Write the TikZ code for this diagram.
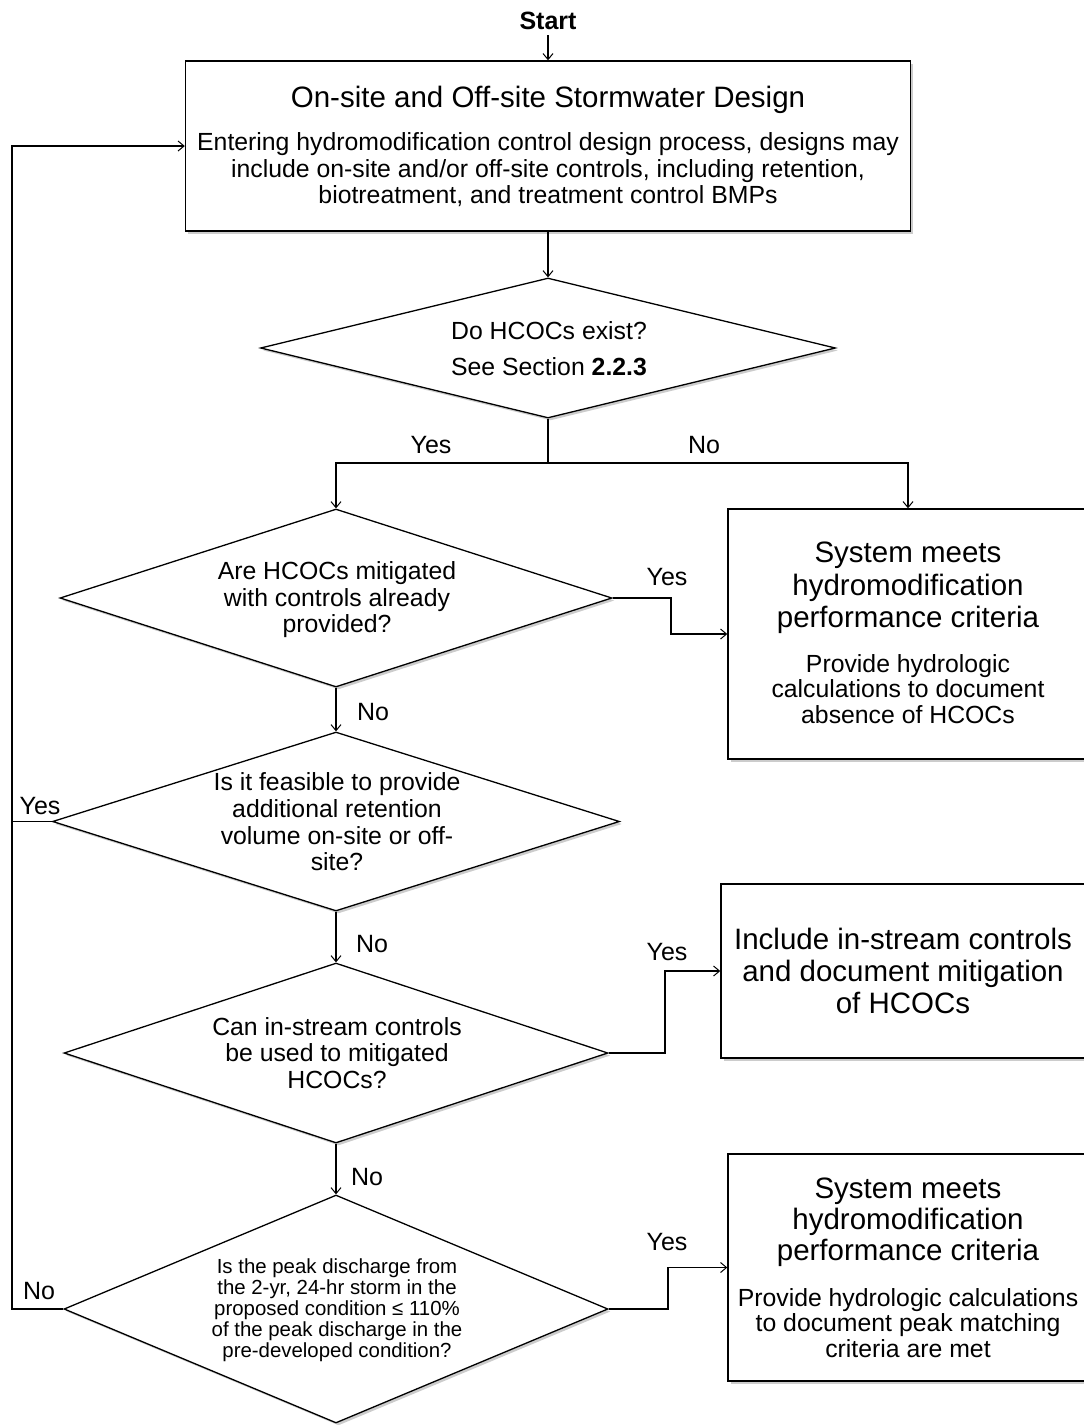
\documentclass[tikz,border=0pt]{standalone}
\usepackage{fontspec}
\setmainfont{Liberation Sans}
\usetikzlibrary{arrows.meta,shapes.geometric,shadows}
\begin{document}
\begin{tikzpicture}[x=1pt,y=-1pt,
  shd/.style={drop shadow={shadow xshift=2.5pt,shadow yshift=-2.5pt,opacity=0.4}},
  box/.style={draw=black, line width=1.4pt, fill=white, rectangle, inner sep=0pt, shd},
  dia/.style={draw=black, line width=1.3pt, fill=white, diamond, inner sep=0pt, shd},
  ttl/.style={align=center, inner sep=0pt, font=\fontsize{29.5}{32.5}\selectfont},
  bod/.style={align=center, inner sep=0pt, font=\fontsize{24.8}{26.5}\selectfont},
  lbl/.style={inner sep=0pt, font=\fontsize{25}{28}\selectfont},
  conn/.style={draw=black, line width=1.1pt},
  arr/.style={conn, -{Straight Barb[length=6pt,width=10pt,line width=1pt]}}
]
\fill[white] (0,0) rectangle (1084,1425);
\useasboundingbox (0,0) rectangle (1084,1425);

% Start
\node[inner xsep=0pt, inner ysep=5pt, font=\fontsize{25}{28}\selectfont\bfseries] (start) at (548,21) {Start};

% Box 1
\node[box, minimum width=725pt, minimum height=170pt] (b1) at (548,146) {};
\node[ttl] (b1t) at (548,100) {On-site and Off-site Stormwater Design};
\node[bod] (b1b) at (548,170) {Entering hydromodification control design process, designs may\\include on-site and/or off-site controls, including retention,\\biotreatment, and treatment control BMPs};

% Diamond 1
\node[dia, minimum width=575pt, minimum height=140pt] (d1) at (548,348) {};
\node[bod, font=\fontsize{24.8}{36}\selectfont] (d1t) at (549,349) {Do HCOCs exist?\\See Section \textbf{2.2.3}};

% Box 2
\node[box, minimum width=360pt, minimum height=250pt] (b2) at (908,634) {};
\node[ttl] (b2t) at (908,588) {System meets\\hydromodification\\performance criteria};
\node[bod, font=\fontsize{24.8}{25.5}\selectfont] (b2b) at (908,689) {Provide hydrologic\\calculations to document\\absence of HCOCs};

% Diamond 2
\node[dia, minimum width=552pt, minimum height=178pt] (d2) at (336,598) {};
\node[bod] (d2t) at (337,600) {Are HCOCs mitigated\\with controls already\\provided?};

% Diamond 3
\node[dia, minimum width=567pt, minimum height=179pt] (d3) at (336,821.5) {};
\node[bod, font=\fontsize{24.8}{26.7}\selectfont] (d3t) at (337,822) {Is it feasible to provide\\additional retention\\volume on-site or off-\\site?};

% Box 3
\node[box, minimum width=367pt, minimum height=174pt] (b3) at (904.5,971) {};
\node[ttl, font=\fontsize{29.5}{32}\selectfont] (b3t) at (903,971) {Include in-stream controls\\and document mitigation\\of HCOCs};

% Diamond 4
\node[dia, minimum width=544pt, minimum height=180pt] (d4) at (336,1053) {};
\node[bod] (d4t) at (337,1053) {Can in-stream controls\\be used to mitigated\\HCOCs?};

% Diamond 5
\node[dia, minimum width=544pt, minimum height=228pt] (d5) at (336,1309) {};
\node[align=center, inner sep=0pt, font=\fontsize{20.4}{21}\selectfont] (d5t) at (337,1310) {Is the peak discharge from\\the 2-yr, 24-hr storm in the\\proposed condition ≤ 110\%\\of the peak discharge in the\\pre-developed condition?};

% Box 4
\node[box, minimum width=360pt, minimum height=227pt] (b4) at (908,1267.5) {};
\node[ttl, font=\fontsize{29.5}{31}\selectfont] (b4t) at (908,1222) {System meets\\hydromodification\\performance criteria};
\node[bod, font=\fontsize{24.8}{25.5}\selectfont] (b4b) at (908,1323) {Provide hydrologic calculations\\to document peak matching\\criteria are met};

% coordinates
\coordinate (split) at (548,463);
\coordinate (j1) at (671,598);
\coordinate (j2) at (665,1053);
\coordinate (j3) at (668,1309);
\coordinate (l1) at (12,821.5);
\coordinate (l2) at (12,1309);

% connectors
\draw[arr] (start) -- (b1.north);
\draw[arr] (b1.south) -- (d1.north);
\draw[arr] (d1.south) -- (split) -| (b2.north);
\draw[arr] (split) -| (d2.north);
\draw[arr] (d2.east) -- (j1) |- (b2.west);
\draw[arr] (d2.south) -- (d3.north);
\draw[arr] (d3.west) -- (l1) |- (b1.west);
\draw[arr] (d3.south) -- (d4.north);
\draw[arr] (d4.east) -- (j2) |- (b3.west);
\draw[arr] (d4.south) -- (d5.north);
\draw[conn] (d5.west) -- (l2) -- (l1);
\draw[arr] (d5.east) -- (j3) |- (b4.west);

% labels
\node[lbl] (lyes1) at (431,445) {Yes};
\node[lbl] (lno1) at (704,445) {No};
\node[lbl] (lyes2) at (667,577) {Yes};
\node[lbl] (lno2) at (373,712) {No};
\node[lbl] (lyes3) at (40,806) {Yes};
\node[lbl] (lno3) at (372,944) {No};
\node[lbl] (lyes4) at (667,952) {Yes};
\node[lbl] (lno4) at (367,1177) {No};
\node[lbl] (lyes5) at (667,1242) {Yes};
\node[lbl] (lno5) at (39,1291) {No};
\end{tikzpicture}
\end{document}
